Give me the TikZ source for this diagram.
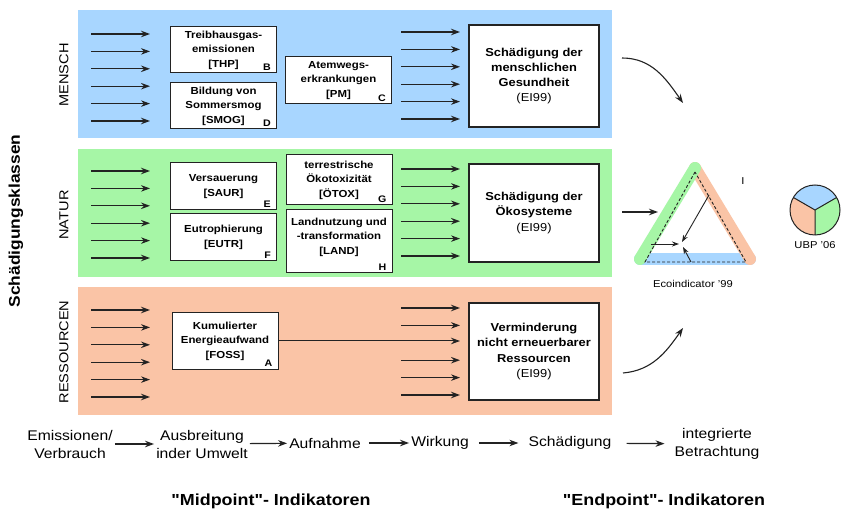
\documentclass[tikz,border=0pt]{standalone}
\usepackage{fontspec}
\setmainfont{Liberation Sans}[FakeStretch=1.12]
\newfontfamily\plainquotes{Liberation Sans}[FakeStretch=1.12, Ligatures=TeXOff]
\usepackage{tikz}
\usetikzlibrary{arrows.meta, positioning}
\definecolor{MenschBlue}{RGB}{168,214,255}
\definecolor{NaturGreen}{RGB}{166,246,166}
\definecolor{RessOrange}{RGB}{250,196,166}
\definecolor{BoxLine}{RGB}{35,35,35}

\begin{document}
\begin{tikzpicture}[
  x=1pt, y=-1pt,
  >={Stealth[length=9pt, width=6.5pt]},
  every node/.style={font=\fontsize{10}{14}\selectfont},
  panel/.style={minimum width=534, minimum height=128, inner sep=0pt},
  midbox/.style={
    draw=BoxLine, line width=1pt, fill=white, minimum width=106, minimum height=46,
    inner sep=0pt, align=center, font=\bfseries\fontsize{10.2}{14.5}\selectfont
  },
  endbox/.style={
    draw=BoxLine, line width=1.1pt, fill=white, minimum width=130, minimum height=98,
    inner sep=0pt, align=center, font=\bfseries\fontsize{11.5}{15.2}\selectfont
  },
  tag/.style={inner sep=0pt, font=\bfseries\fontsize{9.5}{10}\selectfont},
  klasse/.style={rotate=90, font=\fontsize{13}{15}\selectfont},
  flow/.style={->, line width=1.2pt, BoxLine},
  swing/.style={->, line width=1.1pt, BoxLine},
  pointer/.style={-{Stealth[length=7pt, width=5pt]}, line width=0.9pt, BoxLine},
  stage/.style={align=center, inner sep=2pt, font=\fontsize{14}{18}\selectfont},
  heading/.style={anchor=base, font=\plainquotes\bfseries\fontsize{16}{18}\selectfont},
  band/.style={line width=12pt, line cap=round},
  caption/.style={font=\fontsize{10}{12}\selectfont}
]
\useasboundingbox (0,0) rectangle (851,510);
\fill[white] (0,0) rectangle (851,510);

% --- Panels ---
\node[panel, fill=MenschBlue] (mensch) at (345,74) {};
\node[panel, fill=NaturGreen] (natur) at (345,213) {};
\node[panel, fill=RessOrange] (ress) at (345,351) {};

% --- Class labels ---
\node[rotate=90, font=\bfseries\fontsize{15.5}{17}\selectfont] (klassen) at (16,221) {Schädigungsklassen};
\node[klasse] (menschlbl) at (64,75) {MENSCH};
\node[klasse] (naturlbl) at (64,215) {NATUR};
\node[klasse] (resslbl) at (64,352) {RESSOURCEN};

% --- Input arrows ---
\foreach \ytop in {34,171,310}
  \foreach \i in {0,...,5}
    \draw[flow] (91,{\ytop+17.4*\i}) -- (150,{\ytop+17.4*\i});

% --- Row 1: Mensch ---
\node[midbox] (thp) at (223.5,50) {Treibhausgas-\\emissionen\\{[THP]}};
\node[midbox] (smog) at (223.5,106) {Bildung von\\Sommersmog\\{[SMOG]}};
\node[midbox, minimum height=47] (pm) at (338.5,80.5) {Atemwegs-\\erkrankungen\\{[PM]}};
\node[endbox, minimum height=102] (health) at (534,76) {Schädigung der\\menschlichen\\Gesundheit\\{\mdseries(EI99)}};
\node[tag, above left=3pt and 6pt of thp.south east] (tagB) {B};
\node[tag, above left=3pt and 6pt of smog.south east] (tagD) {D};
\node[tag, above left=3pt and 6pt of pm.south east] (tagC) {C};

% --- Row 2: Natur ---
\node[midbox, minimum height=47] (saur) at (223.5,186.5) {Versauerung\\{[SAUR]}};
\node[midbox, minimum height=47] (eutr) at (223.5,237.5) {Eutrophierung\\{[EUTR]}};
\node[midbox, minimum height=50] (oetox) at (339,180) {terrestrische\\Ökotoxizität\\{[ÖTOX]}};
\node[midbox, minimum height=63] (land) at (339,241.5) {};
\node[align=center, inner sep=0pt, font=\bfseries\fontsize{10.2}{14.5}\selectfont] (landtxt) at (339,237) {Landnutzung und\\-transformation\\{[LAND]}};
\node[endbox] (oeko) at (534,213) {Schädigung der\\Ökosysteme\\{\mdseries(EI99)}};
\node[tag, above left=3pt and 6pt of saur.south east] (tagE) {E};
\node[tag, above left=3pt and 6pt of eutr.south east] (tagF) {F};
\node[tag, above left=3pt and 6pt of oetox.south east] (tagG) {G};
\node[tag, above left=3pt and 6pt of land.south east] (tagH) {H};

% --- Row 3: Ressourcen ---
\node[midbox, minimum height=56] (foss) at (225,341) {Kumulierter\\Energieaufwand\\{[FOSS]}};
\node[endbox, minimum height=97] (resbox) at (534,351.5) {Verminderung\\nicht erneuerbarer\\Ressourcen\\{\mdseries(EI99)}};
\node[tag, above left=3pt and 6pt of foss.south east] (tagA) {A};

% --- Arrows into damage boxes ---
\foreach \ytop in {32,169}
  \foreach \i in {0,...,5}
    \draw[flow] (401,{\ytop+17.4*\i}) -- (460,{\ytop+17.4*\i});
\foreach \i in {0,1,3,4,5}
  \draw[flow] (401,{308+17.4*\i}) -- (460,{308+17.4*\i});
\coordinate (fossend) at (460,341);
\draw[flow, line width=1pt] (foss.east) -- (fossend);

% --- Ecoindicator triangle ---
\coordinate (ta) at (695,168);
\coordinate (tl) at (640,259);
\coordinate (tr) at (750,259);
\draw[band, MenschBlue] (tl) -- (tr);
\draw[band, RessOrange] (ta) -- (tr);
\draw[band, NaturGreen] (ta) -- (tl);
\draw[BoxLine, line width=0.9pt, dash pattern=on 3pt off 2pt] (695,172) -- (645,262) -- (746,262) -- cycle;
\coordinate (tc) at (682,242);
\coordinate (fromr) at (709,195);
\coordinate (froml) at (651,244);
\coordinate (fromb) at (691,262);
\draw[pointer] (fromr) -- (tc);
\draw[pointer] (froml) -- (679,244);
\draw[pointer] (fromb) -- (683,247);
\node[caption] (ilbl) at (743,181) {I};
\node[caption] (ecolbl) at (693,284) {Ecoindicator '99};

% --- Arrows to the triangle ---
\coordinate (healthout) at (622,58);
\coordinate (triup) at (683,103);
\coordinate (oekoout) at (622,212);
\coordinate (trimid) at (658,212);
\coordinate (resout) at (623,373);
\coordinate (trilow) at (683,328);
\draw[swing] (healthout) to[out=0, in=125] (triup);
\draw[flow] (oekoout) -- (trimid);
\draw[swing] (resout) to[out=5, in=-125] (trilow);

% --- UBP pie ---
\coordinate (ubpc) at (815,210);
\fill[MenschBlue] (ubpc) -- ++(-30:25) arc[start angle=-30, end angle=-150, radius=25] -- cycle;
\fill[RessOrange] (ubpc) -- ++(-150:25) arc[start angle=-150, end angle=-270, radius=25] -- cycle;
\fill[NaturGreen] (ubpc) -- ++(90:25) arc[start angle=90, end angle=-30, radius=25] -- cycle;
\draw[BoxLine, line width=1pt] (ubpc) -- ++(-30:25) (ubpc) -- ++(-150:25) (ubpc) -- ++(90:25);
\draw[BoxLine, line width=1pt] (ubpc) circle[radius=25];
\node[caption] (ubplbl) at (815,245) {UBP '06};

% --- Impact chain ---
\node[stage] (emis) at (70,444) {Emissionen/\\Verbrauch};
\node[stage] (ausb) at (202,444) {Ausbreitung\\inder Umwelt};
\node[stage] (aufn) at (325,443) {Aufnahme};
\node[stage] (wirk) at (440,443) {Wirkung};
\node[stage] (schaed) at (570,443) {Schädigung};
\node[stage] (integ) at (717,444) {integrierte\\Betrachtung};
\draw[flow] (emis) -- (ausb);
\draw[flow] (ausb) -- (aufn);
\draw[flow, shorten <=6pt] (aufn) -- (wirk);
\draw[flow, shorten <=8pt, shorten >=8pt] (wirk) -- (schaed);
\draw[flow, shorten <=13pt, shorten >=8pt] (schaed) -- (integ);

% --- Indicator headings ---
\node[heading] (midpt) at (271,505) {"Midpoint"- Indikatoren};
\node[heading] (endpt) at (664,505) {"Endpoint"- Indikatoren};

\end{tikzpicture}
\end{document}
